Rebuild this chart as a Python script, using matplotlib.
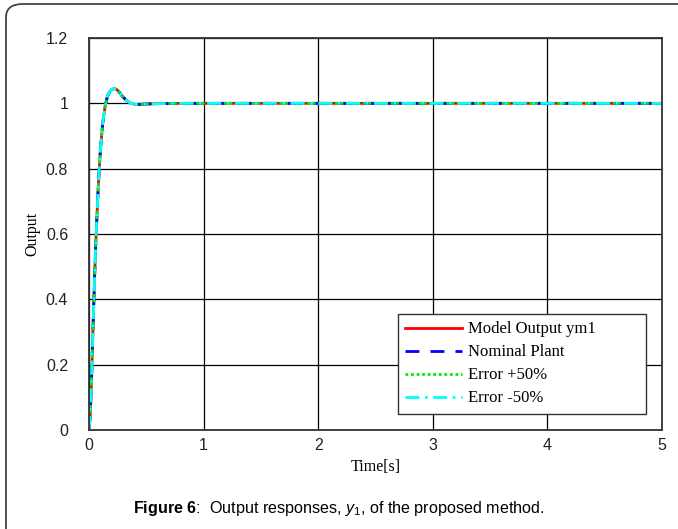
import matplotlib.pyplot as plt
from matplotlib.patches import FancyBboxPatch

# step response (time in s, output)
time = [0, 0.01, 0.02, 0.03, 0.04, 0.05, 0.06, 0.08, 0.10, 0.12, 0.14, 0.16,
        0.18, 0.20, 0.22, 0.24, 0.26, 0.28, 0.30, 0.33, 0.36, 0.40, 0.45, 0.50,
        0.60, 0.80, 1.0, 2.0, 3.0, 4.0, 5.0]
model_output = [0, 0.04, 0.13, 0.25, 0.37, 0.48, 0.58, 0.74, 0.86, 0.94, 0.99, 1.02,
                1.035, 1.043, 1.045, 1.043, 1.036, 1.027, 1.018, 1.008, 1.001, 0.997, 0.997, 0.998,
                0.999, 1.0, 1.0, 1.0, 1.0, 1.0, 1.0]
nominal_plant = list(model_output)
error_plus = list(model_output)
error_minus = list(model_output)

labels = ['Model Output ym1', 'Nominal Plant', 'Error +50%', 'Error -50%']
xticks = [0, 1, 2, 3, 4, 5]
yticks = [0, 0.2, 0.4, 0.6, 0.8, 1, 1.2]
ytick_labels = ['0', '0.2', '0.4', '0.6', '0.8', '1', '1.2']

plt.rcParams['mathtext.fontset'] = 'custom'
plt.rcParams['mathtext.rm'] = 'Liberation Sans'
plt.rcParams['mathtext.it'] = 'Liberation Sans:italic'
plt.rcParams['mathtext.bf'] = 'Liberation Sans:bold'

fig = plt.figure(figsize=(6.78, 5.29), dpi=100)

# rounded frame around the whole figure
frame = FancyBboxPatch((6 / 678, -0.05), 1.2, 1.05 - 4 / 529,
                       boxstyle='round,pad=0,rounding_size=0.025',
                       transform=fig.transFigure, fill=False,
                       edgecolor='#444444', linewidth=1.3, clip_on=False)
fig.patches.append(frame)

ax = fig.add_axes([89 / 678, 1 - 430 / 529, (662 - 89) / 678, (430 - 38) / 529])

ax.plot(time, model_output, color='red', lw=2, ls='-', label=labels[0])
ax.plot(time, nominal_plant, color='blue', lw=2, ls=(0, (5, 4)), label=labels[1])
ax.plot(time, error_plus, color='#00ee00', lw=2, ls=(0, (1, 1)), label=labels[2])
ax.plot(time, error_minus, color='cyan', lw=2, ls=(0, (5, 2, 1, 2)), label=labels[3])

ax.set_xlim(0, 5)
ax.set_ylim(0, 1.2)
ax.set_xticks(xticks)
ax.set_yticks(yticks)
ax.set_yticklabels(ytick_labels)
ax.grid(True, color='black', lw=0.9)
ax.set_axisbelow(True)
ax.tick_params(length=0, labelsize=11.5, colors='#222222')
ax.tick_params(axis='y', pad=15)
ax.tick_params(axis='x', pad=6)
for lbl in ax.get_xticklabels() + ax.get_yticklabels():
    lbl.set_family('Liberation Sans')
for s in ax.spines.values():
    s.set_color('#333333')
    s.set_linewidth(1.3)

ax.set_xlabel('Time[s]', family='Liberation Serif', fontsize=11.5, labelpad=4)
ax.set_ylabel('Output', family='Liberation Serif', fontsize=11.5, labelpad=4)

leg = ax.legend(loc='lower left', bbox_to_anchor=(0.539, 0.041, 0.433, 0.258),
                mode='expand', borderaxespad=0,
                prop={'family': 'Liberation Serif', 'size': 12},
                fancybox=False, edgecolor='#333333', framealpha=1,
                handlelength=3.4, handletextpad=0.35, borderpad=0.45, labelspacing=0.42)
leg.get_frame().set_linewidth(1.0)

fig.text(0.5, 1 - 508 / 529, r'$\bf{Figure\ 6}$:  Output responses, $\it{y}_{\it{1}}$, of the proposed method.',
         ha='center', va='center', fontsize=11.6, family='Liberation Sans')

fig.savefig('out.png', dpi=100)
